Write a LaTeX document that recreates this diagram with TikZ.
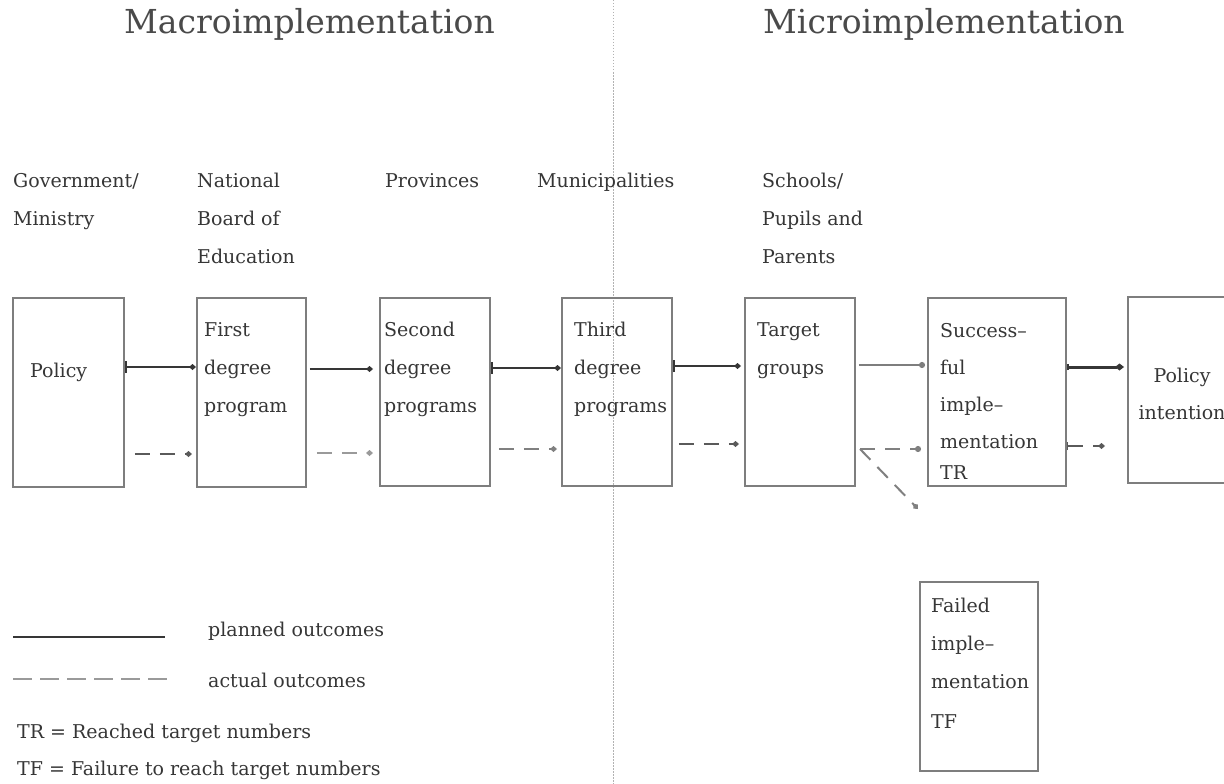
\documentclass[tikz,border=0pt]{standalone}
\usepackage{fontspec}
\setmainfont{DejaVu Serif}
\usetikzlibrary{arrows.meta}
\definecolor{ink}{HTML}{363636}
\definecolor{ttlc}{HTML}{4A4A4A}
\definecolor{boxc}{HTML}{7E7E7E}
\definecolor{dashdark}{HTML}{5A5A5A}
\definecolor{dashlight}{HTML}{9A9A9A}
\begin{document}
\begin{tikzpicture}[x=1pt,y=-1pt,
  lbl/.style={anchor=base west,inner sep=0pt,align=left,text=ink,font=\fontsize{19}{38}\selectfont},
  ttl/.style={anchor=base west,inner sep=0pt,text=ttlc,font=\fontsize{33}{40}\selectfont},
  stage/.style={draw=boxc,line width=1.8pt,anchor=north west,inner sep=0pt,rectangle},
  plan/.style={draw=ink,line width=1.3pt,-{Kite[length=7pt,width=6pt,inset=3.5pt]}},
  plantick/.style={draw=ink,line width=1.3pt,{Bar[width=12pt,line width=2.4pt]}-{Kite[length=7pt,width=6pt,inset=3.5pt]}},
  actual/.style={line width=1.6pt,dash pattern=on 15pt off 10pt,-{Kite[length=7pt,width=6pt,inset=3.5pt]}},
  legsolid/.style={draw=ink,line width=1.3pt},
  legdash/.style={draw=dashlight,line width=1.8pt,dash pattern=on 19pt off 8pt}
]
\useasboundingbox (0,0) rectangle (1224,784);
\fill[white] (0,0) rectangle (1224,784);

% divider
\draw[gray!60,line width=0.9pt,dash pattern=on 1.5pt off 1.5pt] (613,0) -- (613,784);

% titles
\node[ttl] (ttlMacro) at (124,34) {Macroimplementation};
\node[ttl] (ttlMicro) at (763,34) {Microimplementation};

% column headers (anchored at the baseline of their last line)
\node[lbl] (hGov) at (13,225) {Government/\\Ministry};
\node[lbl] (hNat) at (197,263) {National\\Board of\\Education};
\node[lbl] (hProv) at (385,187) {Provinces};
\node[lbl] (hMun) at (537,187) {Municipalities};
\node[lbl] (hSch) at (762,263) {Schools/\\Pupils and\\Parents};

% boxes
\node[stage,minimum width=111pt,minimum height=189pt] (Policy) at (12,297) {};
\node[stage,minimum width=109pt,minimum height=189pt] (First) at (196,297) {};
\node[stage,minimum width=110pt,minimum height=188pt] (Second) at (379,297) {};
\node[stage,minimum width=110pt,minimum height=188pt] (Third) at (561,297) {};
\node[stage,minimum width=110pt,minimum height=188pt] (Target) at (744,297) {};
\node[stage,minimum width=138pt,minimum height=188pt] (Succ) at (927,297) {};
\node[stage,minimum width=130pt,minimum height=186pt] (PI) at (1127,296) {};
\node[stage,minimum width=118pt,minimum height=189pt] (Fail) at (919,581) {};

% box texts (anchored at the baseline of their last line)
\node[lbl] (tPolicy) at (30,377) {Policy};
\node[lbl] (tFirst) at (204,412) {First\\degree\\program};
\node[lbl] (tSecond) at (384,412) {Second\\degree\\programs};
\node[lbl] (tThird) at (574,412) {Third\\degree\\programs};
\node[lbl] (tTarget) at (757,374) {Target\\groups};
\node[lbl,font=\fontsize{19}{37}\selectfont] (tSucc) at (940,479) {Success–\\ful\\imple–\\mentation\\[-6pt]TR};
\node[lbl,align=center,anchor=base,font=\fontsize{19}{37}\selectfont] (tPI) at (1182,419) {Policy\\intention};
\node[lbl] (tFail) at (931,728) {Failed\\imple–\\mentation\\[2pt]TF};

% planned outcomes (solid)
\draw[plantick] (Policy.east |- 0,367) -- (First.west |- 0,367);
\draw[plan,shorten <=3pt,shorten >=6pt] (First.east |- 0,369) -- (Second.west |- 0,369);
\draw[plantick] (Second.east |- 0,368) -- (Third.west |- 0,368);
\draw[plantick,shorten >=3pt] (Third.east |- 0,366) -- (Target.west |- 0,366);
\draw[draw=boxc,line width=2pt,-{Circle[length=6pt]},shorten <=3pt,shorten >=2pt] (Target.east |- 0,365) -- (Succ.west |- 0,365);
\draw[draw=ink,line width=3pt,{Bar[width=6pt,line width=2pt]}-{Kite[length=9pt,width=7pt,inset=4.5pt]},shorten >=3pt] (Succ.east |- 0,367) -- (PI.west |- 0,367);

% actual outcomes (dashed)
\draw[actual,dashdark,shorten <=10pt,shorten >=4pt] (Policy.east |- 0,454) -- (First.west |- 0,454);
\draw[actual,dashlight,line width=2pt,shorten <=10pt,shorten >=6pt] (First.east |- 0,453) -- (Second.west |- 0,453);
\draw[actual,gray,line width=2pt,shorten <=8pt,shorten >=4pt] (Second.east |- 0,449) -- (Third.west |- 0,449);
\draw[actual,dashdark,shorten <=6pt,shorten >=5pt] (Third.east |- 0,444) -- (Target.west |- 0,444);
\coordinate (fork) at (860,449);
\coordinate (failEnd) at (918,509);
\draw[actual,gray,line width=2pt,-{Circle[length=6pt]},shorten >=6pt] (fork) -- (Succ.west |- fork);
\draw[actual,gray,line width=2pt,-{Kite[length=7pt,width=6pt,inset=3.5pt]}] (fork) -- (failEnd);
\draw[actual,dashdark,{Bar[width=8pt,line width=1.6pt]}-{Kite[length=7pt,width=6pt,inset=3.5pt]},shorten >=22pt] (Succ.east |- 0,446) -- (PI.west |- 0,446);

% legend
\coordinate (lgS1) at (13,637);
\coordinate (lgS2) at (165,637);
\coordinate (lgD1) at (13,679);
\coordinate (lgD2) at (168,679);
\draw[legsolid] (lgS1) -- (lgS2);
\draw[legdash] (lgD1) -- (lgD2);
\node[lbl] (lgPlan) at (208,636) {planned outcomes};
\node[lbl] (lgAct) at (208,687) {actual outcomes};
\node[lbl] (lgTR) at (17,738) {TR = Reached target numbers};
\node[lbl] (lgTF) at (17,775) {TF = Failure to reach target numbers};
\end{tikzpicture}
\end{document}
